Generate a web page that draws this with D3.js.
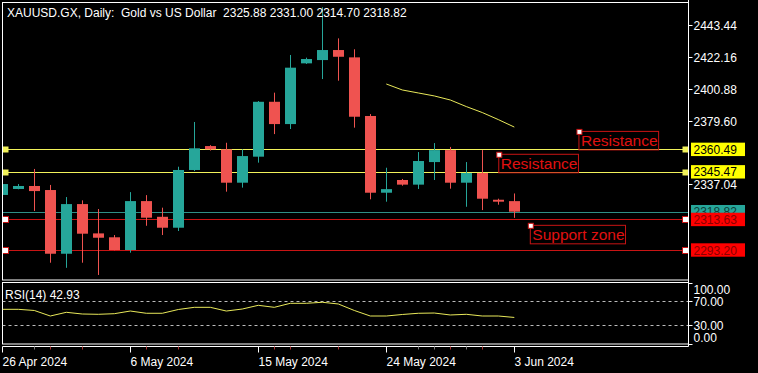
<!DOCTYPE html>
<html><head><meta charset="utf-8">
<script src="https://cdn.jsdelivr.net/npm/d3@7"></script>
<style>
html,body{margin:0;padding:0;background:#000;}
svg{display:block;}
text{font-family:"Liberation Sans",Arial,sans-serif;}
</style></head>
<body>
<script>
// ---------- data ----------
const opens  = [2330.0,2334.0,2336.0,2333.3,2290.7,2323.9,2304.3,2301.7,2293.2,2325.9,2315.4,2308.1,2346.7,2362.7,2360.5,2338.2,2355.6,2392.3,2377.4,2418.0,2420.2,2426.9,2422.0,2382.8,2331.5,2340.0,2336.9,2352.0,2360.0,2338.2,2344.7,2326.8,2325.88];
const highs  = [2338.0,2337.3,2347.4,2336.7,2328.6,2326.4,2320.6,2303.2,2331.9,2329.9,2321.5,2348.9,2378.8,2363.3,2364.9,2360.5,2392.8,2398.4,2423.6,2421.8,2455.5,2434.7,2427.4,2384.1,2348.2,2340.7,2358.7,2364.7,2362.1,2352.0,2360.0,2327.5,2331.00];
const lows   = [2329.0,2333.8,2319.3,2284.7,2281.3,2284.7,2276.5,2293.0,2291.4,2309.4,2303.2,2305.9,2346.0,2359.7,2332.2,2334.9,2351.6,2370.7,2374.1,2417.6,2407.5,2406.4,2375.0,2327.1,2325.5,2336.2,2334.0,2340.0,2334.2,2322.1,2319.9,2323.5,2314.70];
const closes = [2337.3,2336.0,2332.6,2290.7,2323.9,2304.1,2301.4,2293.2,2325.9,2314.8,2308.1,2346.7,2361.2,2360.5,2338.2,2356.0,2392.3,2377.4,2415.1,2420.9,2426.9,2422.4,2382.3,2331.5,2333.9,2336.9,2352.7,2360.0,2338.2,2344.7,2327.5,2325.5,2318.82];
const rsi    = [56.3,56.3,54.4,45.3,51.4,48.6,48.1,49.1,53.5,49.8,49.8,56.0,59.6,59.6,53.5,56.8,62.9,59.6,66.2,66.2,67.9,65.1,54.4,45.3,45.3,47.8,49.8,50.2,47.0,48.1,45.3,45.3,42.93];
const maStart = 24;
const maValues = [2404.2,2400.2,2398.2,2396.2,2393.5,2389.1,2385.1,2380.4,2375.4];
const dateTickIndex = [0,8,16,24,32];
const dateTickLabels = ["26 Apr 2024","6 May 2024","15 May 2024","24 May 2024","3 Jun 2024"];
const minorTickIndex = [2,3,5,9,11,17,18,21,26,27,28,29,30];
const minorTickKind  = ["g","r","r","r","r","r","r","r","g","g","r","g","r"];
const priceTicks = [2443.44,2422.16,2400.88,2379.60,2337.04];
const rsiTicks = [100,70,30,0];
const rsiTickLabels = ["100.00","70.00","30.00","0.00"];
const resistanceLevels = [2360.49,2345.47];
const supportLevels = [2313.63,2293.20];
const bidPrice = 2318.82;
const annotations = [
  {text:"Resistance", idx:36.04, price:2372.5},
  {text:"Resistance", idx:31.03, price:2357.2},
  {text:"Support zone", idx:33.0, price:2309.7}
];
const title = "XAUUSD.GX, Daily:  Gold vs US Dollar  2325.88 2331.00 2314.70 2318.82";
const rsiTitle = "RSI(14) 42.93";

// ---------- layout ----------
const W = 758, H = 373;
const L = 2.5, R = 688.5;
const mainTop = 2.5, mainBot = 280;
const rsiTop = 282.5, rsiBot = 344;
const axisY = 346.5;

const svg = d3.select("body").append("svg").attr("width",W).attr("height",H)
  .style("background","#000");

const x = d3.scaleLinear().domain([0,32]).range([2.3,514.3]);
const y = d3.scaleLinear().domain([2443.44,2293.20]).range([25.3,250]);
const yr = d3.scaleLinear().domain([70,30]).range([301,325.3]);

const up = "#26a69a", dn = "#ef5350";

svg.append("clipPath").attr("id","mainclip").append("rect")
  .attr("x",L).attr("y",mainTop).attr("width",R-L).attr("height",mainBot-mainTop);
svg.append("clipPath").attr("id","rsiclip").append("rect")
  .attr("x",L).attr("y",rsiTop).attr("width",R-L).attr("height",rsiBot-rsiTop);

const main = svg.append("g").attr("clip-path","url(#mainclip)");

// bid line
main.append("line").attr("x1",L).attr("x2",R).attr("y1",Math.round(y(bidPrice))+0.5).attr("y2",Math.round(y(bidPrice))+0.5)
  .attr("stroke","#2f8f86").attr("stroke-width",1);

// horizontal levels
resistanceLevels.forEach(p=>{
  const yy = Math.round(y(p))+0.5;
  main.append("line").attr("x1",L).attr("x2",R).attr("y1",yy).attr("y2",yy).attr("stroke","#f2f25a").attr("stroke-width",1);
});
supportLevels.forEach(p=>{
  const yy = Math.round(y(p))+0.5;
  main.append("line").attr("x1",L).attr("x2",R).attr("y1",yy).attr("y2",yy).attr("stroke","#c81414").attr("stroke-width",1);
});

// candles
const idx = d3.range(opens.length);
const bw = 11;
const cg = main.append("g");
idx.forEach(i=>{
  const bull = closes[i] >= opens[i];
  const col = bull ? up : dn;
  const cx = Math.round(x(i))+0.5;
  cg.append("line").attr("x1",cx).attr("x2",cx).attr("y1",y(highs[i])).attr("y2",y(lows[i]))
    .attr("stroke",col).attr("stroke-width",1);
  const top = y(Math.max(opens[i],closes[i])), bot = y(Math.min(opens[i],closes[i]));
  cg.append("rect").attr("x",cx-bw/2).attr("y",top).attr("width",bw).attr("height",Math.max(1.5,bot-top))
    .attr("fill",col);
});

// moving average
main.append("path").datum(maValues)
  .attr("d",d3.line().x((d,i)=>x(maStart+i)).y(d=>y(d)))
  .attr("fill","none").attr("stroke","#e8e85a").attr("stroke-width",1);

// level handles
resistanceLevels.forEach(p=>{
  const yy = Math.round(y(p))+0.5;
  [5.5,685.5].forEach(hx=>{
    svg.append("rect").attr("x",hx-3).attr("y",yy-3).attr("width",6).attr("height",6).attr("fill","#f2f25a");
  });
});
supportLevels.forEach(p=>{
  const yy = Math.round(y(p))+0.5;
  [5.5,685.5].forEach(hx=>{
    svg.append("rect").attr("x",hx-3).attr("y",yy-3).attr("width",6).attr("height",6)
      .attr("fill","#fff").attr("stroke","#c81414").attr("stroke-width",1);
  });
});

// annotations
annotations.forEach(a=>{
  const ax = x(a.idx), ay = y(a.price);
  const t = svg.append("text").attr("x",ax+2).attr("y",ay+15).text(a.text)
    .attr("fill","#e01010").style("font-size","15.5px");
  const bb = t.node().getBBox();
  svg.append("rect").attr("x",ax).attr("y",ay).attr("width",bb.width+3).attr("height",18.5)
    .attr("fill","none").attr("stroke","#c81414").attr("stroke-width",1);
  svg.append("rect").attr("x",ax-2).attr("y",ay-2).attr("width",5).attr("height",5)
    .attr("fill","#fff").attr("stroke","#c81414").attr("stroke-width",1);
});

// panels
svg.append("rect").attr("x",L).attr("y",mainTop).attr("width",R-L).attr("height",mainBot-mainTop)
  .attr("fill","none").attr("stroke","#fff").attr("stroke-width",1);
svg.append("rect").attr("x",L).attr("y",rsiTop).attr("width",R-L).attr("height",rsiBot-rsiTop)
  .attr("fill","none").attr("stroke","#fff").attr("stroke-width",1);

// title
svg.append("text").attr("x",7).attr("y",16.5).text(title).attr("fill","#fff")
  .style("font-size","12px").style("white-space","pre");

// price axis
const pa = svg.append("g");
priceTicks.forEach(p=>{
  const yy = Math.round(y(p))+0.5;
  pa.append("line").attr("x1",R).attr("x2",R+4).attr("y1",yy).attr("y2",yy).attr("stroke","#fff");
  pa.append("text").attr("x",693.5).attr("y",yy+4.5).text(p.toFixed(2)).attr("fill","#fff").style("font-size","12px");
});

function axisBox(p, bg, fg){
  const yy = y(p);
  pa.append("rect").attr("x",691).attr("y",yy-6.7).attr("width",54).attr("height",13.4).attr("fill",bg);
  pa.append("text").attr("x",693.5).attr("y",yy+4.5).text(p.toFixed(2)).attr("fill",fg).style("font-size","12px");
}
resistanceLevels.forEach(p=>axisBox(p,"#ffff00","#000"));
axisBox(bidPrice, up, "#0d3d38");
supportLevels.forEach(p=>axisBox(p,"#ff0000","#8a0000"));

// RSI panel
const rg = svg.append("g").attr("clip-path","url(#rsiclip)");
[70,30].forEach(v=>{
  rg.append("line").attr("x1",L).attr("x2",R).attr("y1",Math.round(yr(v))+0.5).attr("y2",Math.round(yr(v))+0.5)
    .attr("stroke","#bbb").attr("stroke-dasharray","3,3").attr("stroke-width",1);
});
rg.append("path").datum(rsi)
  .attr("d",d3.line().x((d,i)=>x(i)).y(d=>yr(d)))
  .attr("fill","none").attr("stroke","#e8e85a").attr("stroke-width",1);
svg.append("text").attr("x",5).attr("y",298.5).text(rsiTitle).attr("fill","#fff").style("font-size","12px");

const rsiLabelY = [289.3,301,325.3,337.3];
rsiTicks.forEach((v,i)=>{
  const yy = Math.round(yr(v))+0.5;
  svg.append("line").attr("x1",R).attr("x2",R+4).attr("y1",yy).attr("y2",yy).attr("stroke","#fff");
  svg.append("text").attr("x",693.5).attr("y",rsiLabelY[i]+4.5).text(rsiTickLabels[i]).attr("fill","#fff").style("font-size","12px");
});

// right axis line
svg.append("line").attr("x1",R).attr("x2",R).attr("y1",0).attr("y2",axisY).attr("stroke","#fff");

// time axis
svg.append("line").attr("x1",L).attr("x2",R).attr("y1",axisY).attr("y2",axisY).attr("stroke","#fff");
minorTickIndex.forEach((t,i)=>{
  const xx = Math.round(x(t))+0.5;
  svg.append("line").attr("x1",xx).attr("x2",xx).attr("y1",axisY).attr("y2",axisY+3)
    .attr("stroke",minorTickKind[i]==="r"?"#a33":"#777");
});
dateTickIndex.forEach((t,i)=>{
  const xx = Math.max(L, Math.round(x(t))+0.5);
  svg.append("line").attr("x1",xx).attr("x2",xx).attr("y1",axisY).attr("y2",axisY+6).attr("stroke","#fff");
  svg.append("text").attr("x",xx).attr("y",365.5).text(dateTickLabels[i]).attr("fill","#fff").style("font-size","12px");
});
</script>
</body></html>
